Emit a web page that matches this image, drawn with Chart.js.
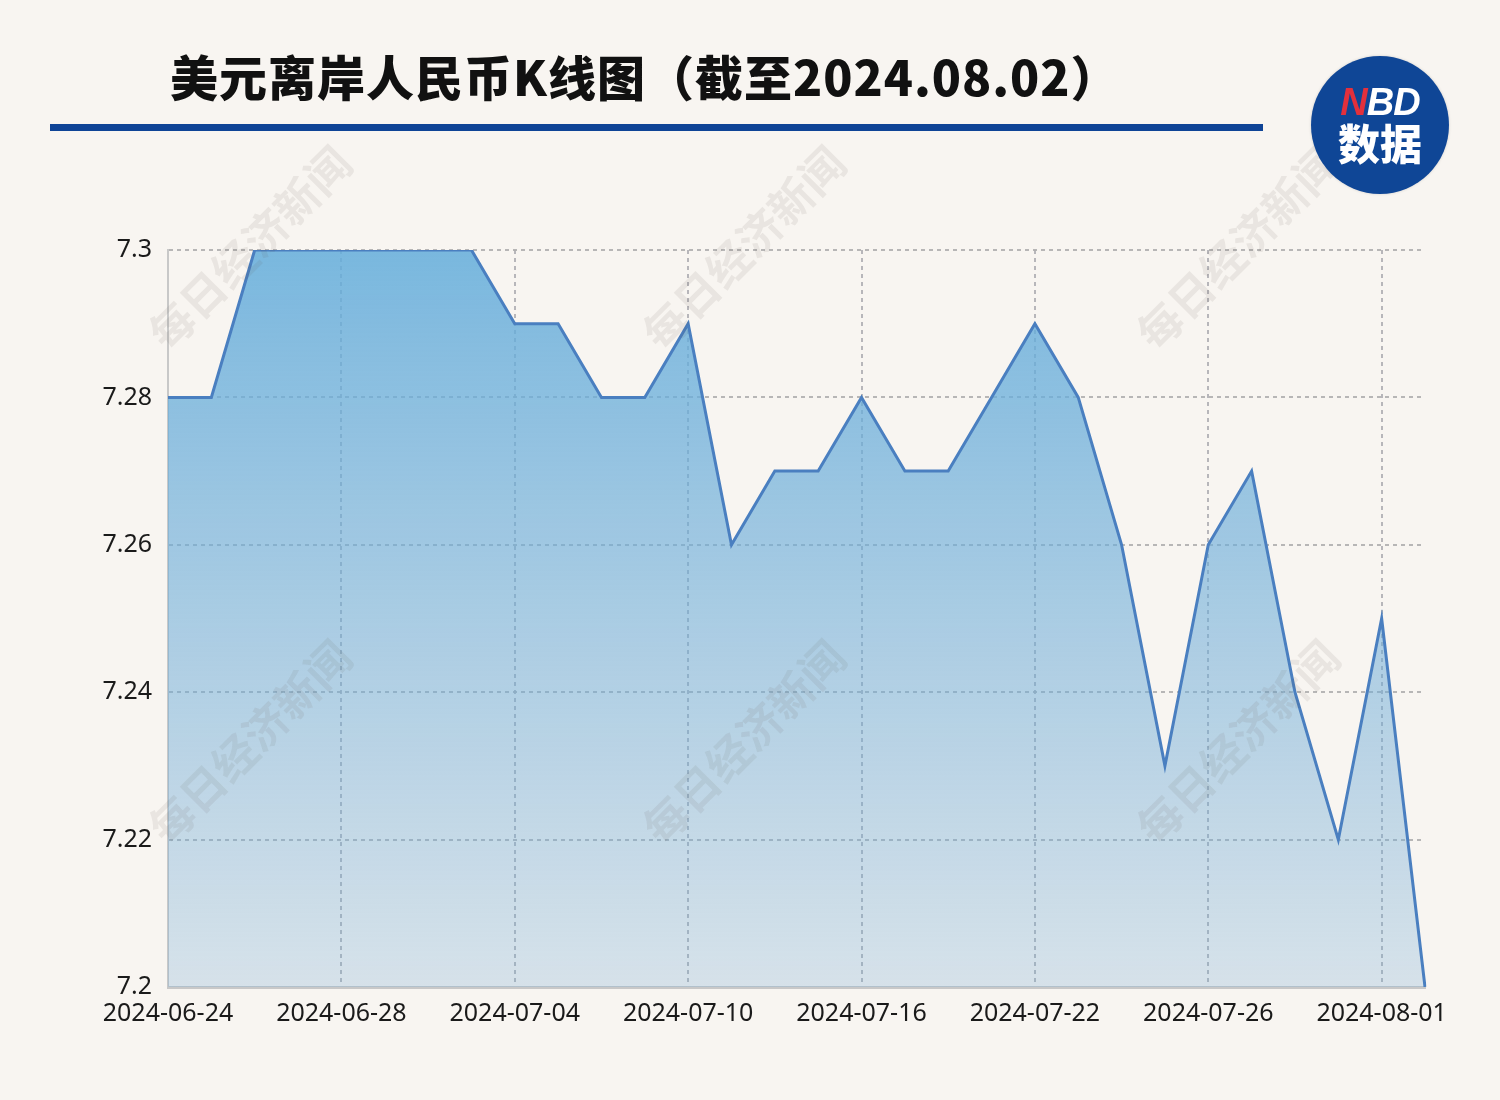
<!DOCTYPE html>
<html lang="zh-CN">
<head>
<meta charset="utf-8">
<title>美元离岸人民币K线图</title>
<script src="https://cdn.jsdelivr.net/npm/chart.js@4.4.1/dist/chart.umd.min.js"></script>
<style>
  html, body { margin: 0; padding: 0; background: #f8f5f1; }
  #wrap { position: relative; width: 1500px; height: 1100px; overflow: hidden; }
  #lineChart { position: absolute; left: 0; top: 0; }
  .titulo {
    position: absolute; left: 170px; top: 42px;
    font-family: "Noto Sans CJK SC", sans-serif; font-weight: 900;
    font-size: 48px; color: #111; white-space: nowrap; line-height: 66px; letter-spacing: 1px;
  }
  .barra { position: absolute; left: 50px; top: 124px; width: 1213px; height: 7px; background: #0f4496; }
  .logo {
    position: absolute; left: 1311px; top: 56px; width: 138px; height: 138px;
    border-radius: 50%; background: #0f4696; color: #fff; text-align: center;
    font-family: "Noto Sans CJK SC", sans-serif; font-weight: 900;
    box-shadow: 0 0 3px rgba(0,0,0,0.15);
  }
  .logo .nbd { position: absolute; left: 0; right: 0; top: 26px; font-size: 38px; line-height: 40px;
    font-family: "Liberation Sans", Arial, sans-serif; font-weight: 700; font-style: italic; letter-spacing: -1px; }
  .logo .nbd span { color: #e3303c; }
  .logo .sj { position: absolute; left: 0; right: 0; top: 62px; font-size: 42px; line-height: 48px; }
</style>
</head>
<body>
<div id="wrap">
  <canvas id="lineChart" width="1500" height="1100"></canvas>
  <div class="titulo">美元离岸人民币K线图（截至2024.08.02）</div>
  <div class="barra"></div>
  <div class="logo">
    <div class="nbd"><span>N</span>BD</div>
    <div class="sj">数据</div>
  </div>
</div>
<script>
  // dados do grafico
  const datas = [
    '2024-06-24', '2024-06-25', '2024-06-26', '2024-06-27', '2024-06-28',
    '2024-07-01', '2024-07-02', '2024-07-03', '2024-07-04', '2024-07-05',
    '2024-07-08', '2024-07-09', '2024-07-10', '2024-07-11', '2024-07-12',
    '2024-07-15', '2024-07-16', '2024-07-17', '2024-07-18', '2024-07-19',
    '2024-07-22', '2024-07-23', '2024-07-24', '2024-07-25', '2024-07-26',
    '2024-07-29', '2024-07-30', '2024-07-31', '2024-08-01', '2024-08-02'
  ];
  const cotacao = [
    7.28, 7.28, 7.30, 7.30, 7.30,
    7.30, 7.30, 7.30, 7.29, 7.29,
    7.28, 7.28, 7.29, 7.26, 7.27,
    7.27, 7.28, 7.27, 7.27, 7.28,
    7.29, 7.28, 7.26, 7.23, 7.26,
    7.27, 7.24, 7.22, 7.25, 7.20
  ];
  const eixoY = [7.2, 7.22, 7.24, 7.26, 7.28, 7.3];
  const marcaAgua = '每日经济新闻';

  /* marca d'agua por cima do grafico */
  const pluginMarca = {
    id: 'marcaAgua',
    afterDraw(chart) {
      const c = chart.ctx;
      const centros = [[250, 248], [744, 248], [1238, 248], [250, 742], [744, 742], [1238, 742]];
      c.save();
      c.font = '700 44px "Noto Sans CJK SC", sans-serif';
      c.fillStyle = 'rgba(90, 80, 70, 0.09)';
      c.textAlign = 'center';
      c.textBaseline = 'middle';
      centros.forEach(([x, y]) => {
        c.save();
        c.translate(x, y);
        c.rotate(-Math.PI / 4);
        c.fillText(marcaAgua, 0, 0);
        c.restore();
      });
      c.restore();
    }
  };

  document.addEventListener('DOMContentLoaded', () => {
    const ctx = document.getElementById('lineChart').getContext('2d');
    Chart.defaults.font.family = '"Noto Sans", sans-serif';
    Chart.defaults.font.size = 25;
    Chart.defaults.color = '#1a1a1a';

    new Chart(ctx, {
      type: 'line',
      data: {
        labels: datas,
        datasets: [{
          data: cotacao,
          borderColor: '#4a7fc0',
          borderWidth: 3,
          pointRadius: 0,
          tension: 0,
          fill: 'start',
          backgroundColor: context => {
            const area = context.chart.chartArea;
            if (!area) return 'rgba(104, 172, 218, 0.5)';
            const g = context.chart.ctx.createLinearGradient(0, area.top, 0, area.bottom);
            g.addColorStop(0, 'rgba(100, 173, 219, 0.86)');
            g.addColorStop(1, 'rgba(112, 169, 213, 0.25)');
            return g;
          }
        }]
      },
      options: {
        responsive: false,
        animation: false,
        layout: { padding: { left: 0, top: 250, right: 75, bottom: 0 } },
        plugins: { legend: { display: false }, tooltip: { enabled: false } },
        scales: {
          x: {
            offset: false,
            border: { display: true, color: '#c8c8c8', width: 3, dash: [4, 4] },
            grid: {
              drawTicks: false,
              color: c => (c.index % 4 === 0 && c.index > 0) ? 'rgba(175, 175, 180, 0.9)' : 'rgba(0,0,0,0)',
              lineWidth: 2
            },
            ticks: {
              autoSkip: false,
              maxRotation: 0,
              padding: 12,
              callback: (v, i) => i % 4 === 0 ? datas[i] : ''
            },
            afterFit: s => { s.height = 113; }
          },
          y: {
            min: eixoY[0],
            max: eixoY[eixoY.length - 1],
            border: { display: true, color: '#c8c8c8', width: 2, dash: [4, 4] },
            grid: {
              drawTicks: false,
              color: c => c.index === 0 ? 'rgba(0,0,0,0)' : 'rgba(175, 175, 175, 0.9)',
              lineWidth: 2
            },
            ticks: {
              stepSize: 0.02,
              padding: 16,
              callback: v => String(+v.toFixed(2))
            },
            afterFit: s => { s.width = 168; }
          }
        }
      },
      plugins: [pluginMarca]
    });
  });
</script>
</body>
</html>
